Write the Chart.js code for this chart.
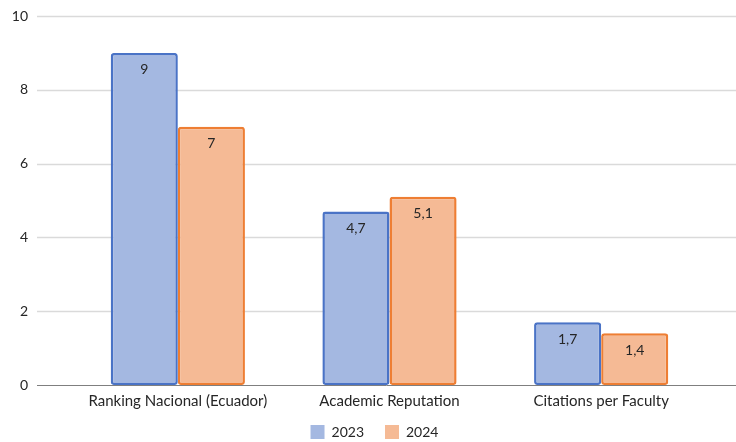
<!DOCTYPE html>
<html>
<head>
<meta charset="utf-8">
<script src="https://cdn.jsdelivr.net/npm/chart.js@4/dist/chart.umd.min.js"></script>
<style>
  html, body { margin: 0; padding: 0; background: #ffffff; }
  #wrap { width: 736px; height: 442px; position: relative; }
</style>
</head>
<body>
<div id="wrap"><canvas id="chart" width="736" height="442"></canvas></div>
<script>
// Indicators compared across two years
const categories = ['Ranking Nacional (Ecuador)', 'Academic Reputation', 'Citations per Faculty'];
const seriesNames = ['2023', '2024'];
const values2023 = [9, 4.7, 1.7];
const values2024 = [7, 5.1, 1.4];
const yTicks = [0, 2, 4, 6, 8, 10];

const FONT = 'Lato, "Open Sans", sans-serif';
const fills = ['#a4b8e1', '#f5ba95'];
const borders = ['#4a73c6', '#ee7e33'];

const fmt = v => String(v).replace('.', ',');

// Horizontal gridlines run past the category band, edge to edge
const gridPlugin = {
  id: 'wideGrid',
  afterLayout(chart) {
    // centre the legend under the whole figure, a little closer to the axis labels
    const lg = chart.legend;
    if (lg) {
      lg.left += 21;
      lg.right += 21;
      lg.top -= 6;
      lg.bottom -= 6;
    }
  },
  beforeDatasetsDraw(chart) {
    const y = chart.scales.y;
    const ctx = chart.ctx;
    ctx.save();
    ctx.strokeStyle = '#dadada';
    ctx.lineWidth = 1.5;
    yTicks.forEach(t => {
      if (t === 0) return;
      const py = Math.round(y.getPixelForValue(t)) + 0.5;
      ctx.beginPath();
      ctx.moveTo(37, py);
      ctx.lineTo(chart.width, py);
      ctx.stroke();
    });
    ctx.restore();
  },
  afterDatasetsDraw(chart) {
    const y = chart.scales.y;
    const ctx = chart.ctx;
    ctx.save();
    // baseline
    const py = Math.round(y.getPixelForValue(0)) + 0.5;
    ctx.strokeStyle = '#7f7f7f';
    ctx.lineWidth = 1;
    ctx.beginPath();
    ctx.moveTo(37, py);
    ctx.lineTo(chart.width, py);
    ctx.stroke();
    // value labels inside the top of each bar
    ctx.fillStyle = '#262626';
    ctx.font = '14px ' + FONT;
    ctx.textAlign = 'center';
    ctx.textBaseline = 'middle';
    chart.data.datasets.forEach((ds, i) => {
      const meta = chart.getDatasetMeta(i);
      meta.data.forEach((bar, j) => {
        ctx.fillText(fmt(ds.data[j]), bar.x, bar.y + 17);
      });
    });
    ctx.restore();
  }
};

new Chart(document.getElementById('chart'), {
  type: 'bar',
  data: {
    labels: categories,
    datasets: [
      {
        label: seriesNames[0],
        data: values2023,
        backgroundColor: fills[0],
        borderColor: borders[0],
        borderWidth: 2.5,
        borderRadius: 3,
        borderSkipped: false
      },
      {
        label: seriesNames[1],
        data: values2024,
        backgroundColor: fills[1],
        borderColor: borders[1],
        borderWidth: 2.5,
        borderRadius: 3,
        borderSkipped: false
      }
    ]
  },
  options: {
    responsive: false,
    animation: false,
    devicePixelRatio: 1,
    layout: { padding: { top: 16, right: 29, left: 0, bottom: -13 } },
    datasets: {
      bar: { categoryPercentage: 0.634, barPercentage: 1.0 }
    },
    scales: {
      x: {
        grid: { display: false, drawTicks: false },
        border: { display: false },
        afterFit(scale) {
          scale.height = 25;
          scale.paddingLeft = 0;
          scale.paddingRight = 0;
        },
        ticks: {
          color: '#262626',
          font: { family: FONT, size: 15 },
          padding: 7,
          maxRotation: 0,
          autoSkip: false
        }
      },
      y: {
        min: 0,
        max: 10,
        afterBuildTicks(scale) {
          scale.ticks = yTicks.map(v => ({ value: v }));
        },
        afterFit(scale) {
          scale.width = 72;
          scale.paddingTop = 0;
          scale.paddingBottom = 0;
        },
        grid: { display: false, drawTicks: false },
        border: { display: false },
        ticks: {
          color: '#262626',
          font: { family: FONT, size: 14 },
          padding: 44
        }
      }
    },
    plugins: {
      legend: {
        position: 'bottom',
        labels: {
          color: '#262626',
          font: { family: FONT, size: 14 },
          boxWidth: 14,
          boxHeight: 14,
          padding: 21,
          generateLabels(chart) {
            return chart.data.datasets.map((ds, i) => ({
              text: ds.label,
              fillStyle: fills[i],
              strokeStyle: fills[i],
              lineWidth: 0,
              fontColor: '#262626',
              datasetIndex: i
            }));
          }
        }
      },
      tooltip: { enabled: false }
    }
  },
  plugins: [gridPlugin]
});
</script>
</body>
</html>
